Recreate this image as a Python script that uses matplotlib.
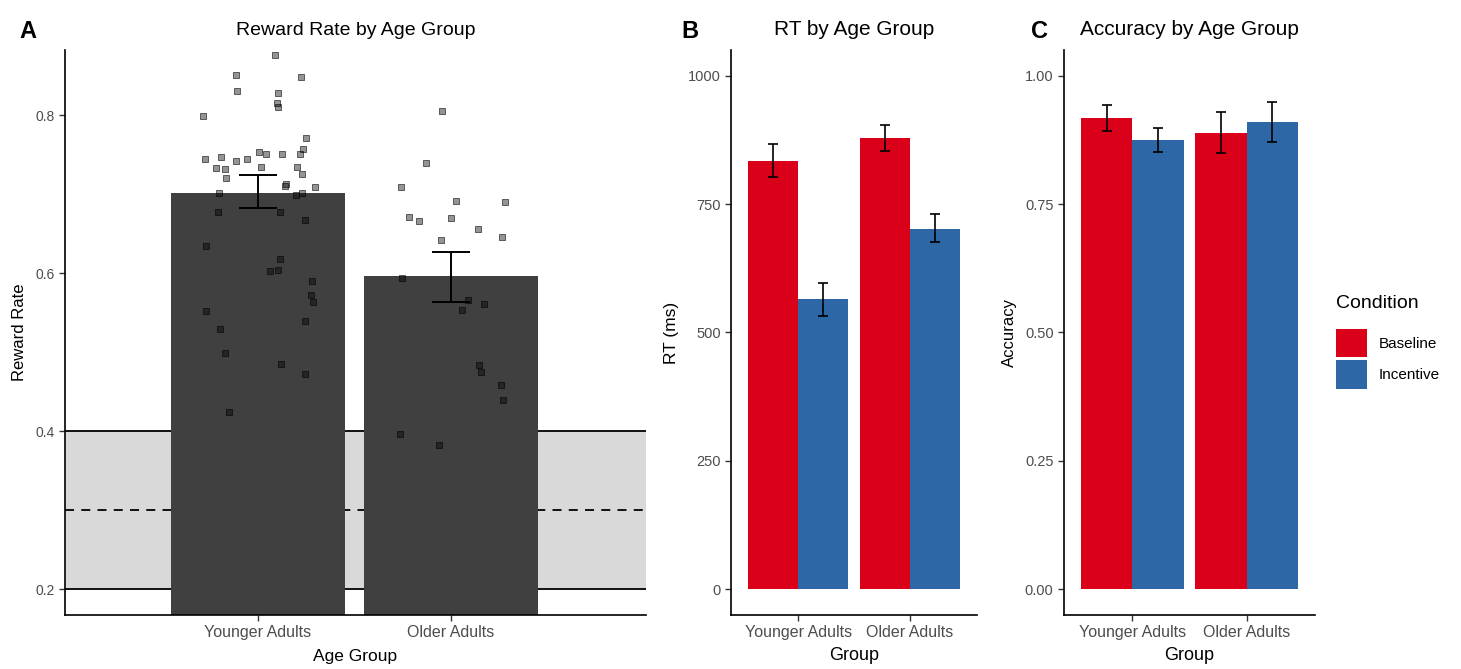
import numpy as np
import matplotlib
matplotlib.use("Agg")
import matplotlib.pyplot as plt
from matplotlib.patches import Patch

plt.rcParams['font.family'] = ['Liberation Sans', 'DejaVu Sans']
NARROW = ['Liberation Sans Narrow', 'Liberation Sans', 'DejaVu Sans']

groups = ["Younger Adults", "Older Adults"]
conditions = ["Baseline", "Incentive"]

# Panel A: reward rate means and standard-error bounds
reward_mean = [0.702, 0.596]
reward_lo = [0.682, 0.563]
reward_hi = [0.724, 0.627]

# individual participants (jitter offset, reward rate)
young_jit = [0.088, -0.114, 0.223, -0.109, 0.104, 0.098, 0.104, -0.285, 0.249, 0.233,
             0.005, 0.041, 0.124, 0.218, -0.275, -0.192, -0.114, -0.057, -0.218, -0.171,
             0.016, 0.202, -0.166, 0.228, 0.145, 0.295, 0.140, -0.202, 0.197, 0.228,
             -0.207, 0.114, 0.244, -0.269, 0.114, 0.062, 0.104, 0.280, 0.275, 0.285,
             -0.269, -0.197, 0.244, -0.171, 0.119, 0.244, -0.150]
young_rr = [0.876, 0.851, 0.848, 0.830, 0.828, 0.816, 0.810, 0.799, 0.771, 0.757,
            0.753, 0.751, 0.751, 0.751, 0.744, 0.747, 0.742, 0.744, 0.733, 0.732,
            0.734, 0.735, 0.720, 0.725, 0.713, 0.709, 0.710, 0.701, 0.699, 0.701,
            0.677, 0.677, 0.667, 0.635, 0.618, 0.603, 0.604, 0.590, 0.572, 0.563,
            0.552, 0.530, 0.539, 0.499, 0.485, 0.473, 0.424]
old_jit = [-0.047, -0.130, -0.259, 0.026, 0.280, -0.218, -0.166, 0.000, 0.140, 0.264,
           -0.052, -0.254, 0.088, 0.057, 0.171, 0.145, 0.155, 0.259, 0.269, -0.264, -0.062]
old_rr = [0.805, 0.739, 0.709, 0.692, 0.690, 0.671, 0.666, 0.670, 0.656, 0.646,
          0.642, 0.594, 0.566, 0.554, 0.561, 0.484, 0.475, 0.458, 0.439, 0.396, 0.382]

chance_lo, chance_mid, chance_hi = 0.2, 0.3, 0.4

# Panel B: RT (ms), rows = groups, cols = Baseline / Incentive
rt_mean = [[833, 565], [878, 702]]
rt_lo = [[803, 533], [854, 677]]
rt_hi = [[867, 597], [904, 730]]

# Panel C: accuracy
acc_mean = [[0.918, 0.875], [0.889, 0.909]]
acc_lo = [[0.892, 0.852], [0.849, 0.871]]
acc_hi = [[0.942, 0.899], [0.930, 0.949]]

cond_colors = ["#DA0019", "#2E67A6"]
bar_grey = "#404040"
tick_grey = "#4d4d4d"

fig = plt.figure(figsize=(14.61, 6.69), dpi=100)
W, H = 1461, 669


def frame(ax):
    for s in ["top", "right"]:
        ax.spines[s].set_visible(False)
    for s in ["left", "bottom"]:
        ax.spines[s].set_linewidth(1.2)
        ax.spines[s].set_color("black")
    ax.tick_params(length=4, width=1.0, color="#333333", labelcolor=tick_grey, labelsize=10.5)


# ---- Panel A ----
axA = fig.add_axes([65 / W, 54 / H, (646 - 65) / W, (615 - 50) / H])
frame(axA)
xA = np.arange(1, 3)
axA.axhspan(chance_lo, chance_hi, color="#d9d9d9", zorder=0, lw=0)
axA.axhline(chance_lo, color="black", lw=1.3, zorder=1)
axA.axhline(chance_hi, color="black", lw=1.3, zorder=1)
axA.axhline(chance_mid, color="black", lw=1.3, ls=(0, (5, 4)), zorder=1)
axA.bar(xA, reward_mean, width=0.9, color=bar_grey, zorder=2)
yerr = [np.array(reward_mean) - np.array(reward_lo), np.array(reward_hi) - np.array(reward_mean)]
axA.errorbar(xA, reward_mean, yerr=yerr, fmt="none", ecolor="black", elinewidth=1.4,
             capsize=13.5, capthick=1.4, zorder=3)
axA.scatter(1 + np.array(young_jit), young_rr, marker="s", s=13, facecolor=(0, 0, 0, 0.42),
            edgecolor=(0, 0, 0, 0.65), linewidth=0.6, zorder=4)
axA.scatter(2 + np.array(old_jit), old_rr, marker="s", s=13, facecolor=(0, 0, 0, 0.42),
            edgecolor=(0, 0, 0, 0.65), linewidth=0.6, zorder=4)
axA.set_xlim(0, 3.01)
axA.set_ylim(0.1675, 0.8825)
axA.set_yticks([0.2, 0.4, 0.6, 0.8])
axA.set_yticklabels(["0.2", "0.4", "0.6", "0.8"])
axA.tick_params(axis="y", labelsize=10)
axA.set_xticks(xA)
axA.set_xticklabels(groups, family=NARROW, fontsize=11.5)
axA.set_xlabel("Age Group", fontsize=12.5, labelpad=6)
axA.set_ylabel("Reward Rate", fontsize=12, family=NARROW, labelpad=6)
axA.set_title("Reward Rate by Age Group", fontsize=14, family=NARROW, pad=11)


# ---- Panels B and C ----
def grouped(ax, mean, lo, hi):
    frame(ax)
    mean = np.array(mean)
    lo = np.array(lo)
    hi = np.array(hi)
    x = np.arange(1, 3)
    for j in range(2):
        xs = x + (j - 0.5) * 0.45
        ax.bar(xs, mean[:, j], width=0.45, color=cond_colors[j], zorder=2)
        ax.errorbar(xs, mean[:, j], yerr=[mean[:, j] - lo[:, j], hi[:, j] - mean[:, j]],
                    fmt="none", ecolor="black", elinewidth=1.2, capsize=3.8, capthick=1.2, zorder=3)
    ax.set_xlim(0.4, 2.6)
    ax.set_xticks(x)
    ax.set_xticklabels(groups, fontsize=11.5)
    ax.set_xlabel("Group", fontsize=13, labelpad=5)


axB = fig.add_axes([731 / W, 54 / H, (977 - 731) / W, (615 - 50) / H])
grouped(axB, rt_mean, rt_lo, rt_hi)
axB.set_ylim(-50, 1050)
axB.set_yticks([0, 250, 500, 750, 1000])
axB.set_ylabel("RT (ms)", fontsize=12.5, labelpad=6)
axB.set_title("RT by Age Group", fontsize=15, pad=11)

axC = fig.add_axes([1064 / W, 54 / H, (1315 - 1064) / W, (615 - 50) / H])
grouped(axC, acc_mean, acc_lo, acc_hi)
axC.set_ylim(-0.05, 1.05)
axC.set_yticks([0, 0.25, 0.5, 0.75, 1.0])
axC.set_yticklabels(["0.00", "0.25", "0.50", "0.75", "1.00"])
axC.set_ylabel("Accuracy", fontsize=12, family=NARROW, labelpad=6)
axC.set_title("Accuracy by Age Group", fontsize=15, pad=11)

handles = [Patch(facecolor=c, edgecolor="none") for c in cond_colors]
leg = fig.legend(handles, conditions, title="Condition", loc="upper left",
                 bbox_to_anchor=(1336 / W, 1 - 295 / H), frameon=False, fontsize=11,
                 title_fontsize=14, handlelength=2.0, handleheight=2.5, handletextpad=0.8,
                 labelspacing=0.2, borderaxespad=0, borderpad=0)
leg._legend_box.align = "left"
leg._legend_box.sep = 12

# panel letters
for lbl, xp in [("A", 28), ("B", 690), ("C", 1040)]:
    fig.text(xp / W, 1 - 31 / H, lbl, fontsize=17, fontweight="bold", ha="center", va="center")

fig.savefig("out.png", dpi=100)
